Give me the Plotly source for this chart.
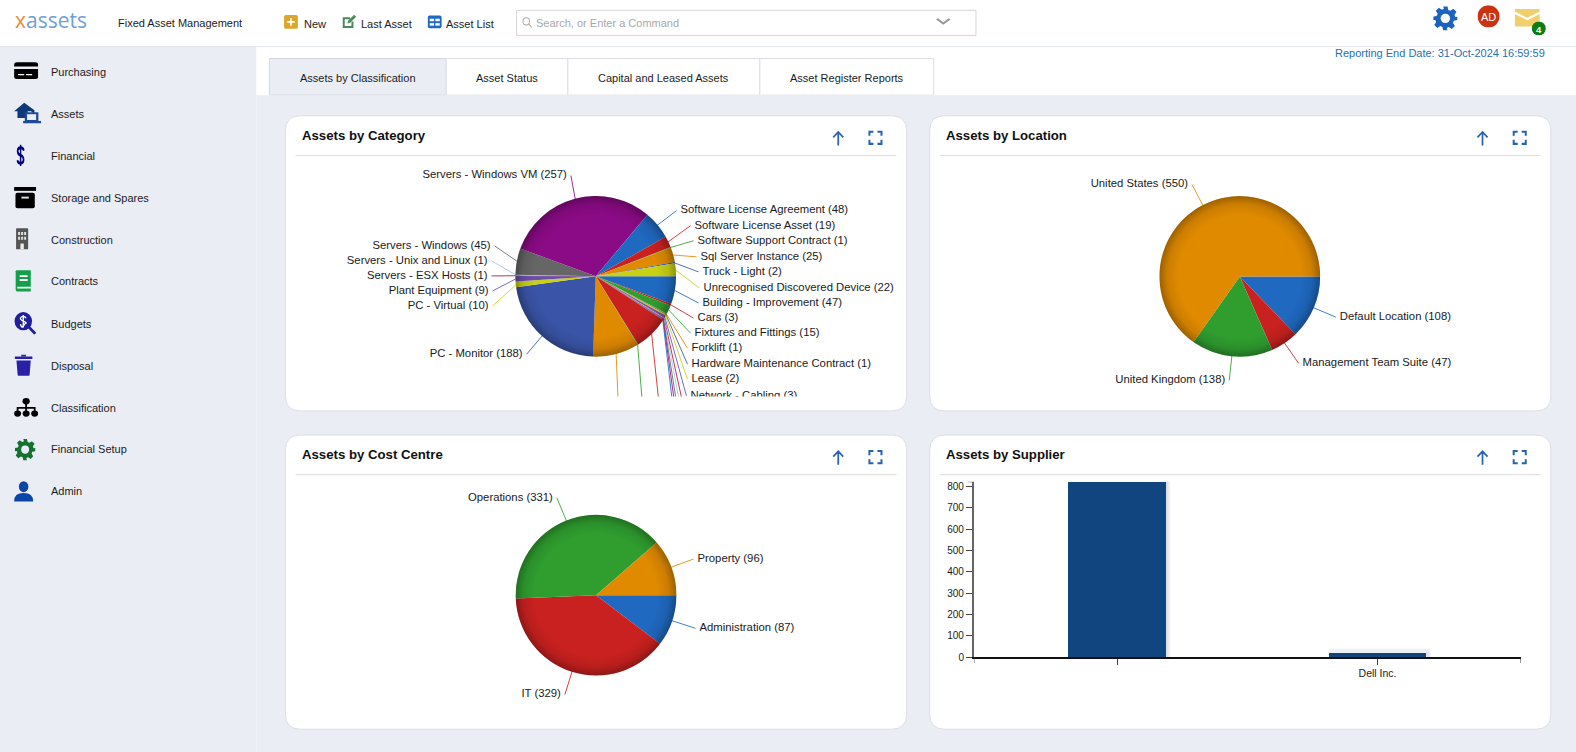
import base64
import numpy as np
import plotly.graph_objects as go

# ---------- data ----------
palette = ["#1f69c1", "#c9211f", "#2f9e2f", "#e08a00", "#3a55a8", "#c8d114",
           "#6a4fae", "#b3123a", "#a8c4e0", "#666666", "#8b0a85"]

category_names = ["Building - Improvement", "Cars", "Fixtures and Fittings", "Forklift",
                  "Hardware Maintenance Contract", "Lease", "Network - Cabling",
                  "", "", "", "", "", "", "", "",
                  "PC - Monitor", "PC - Virtual", "Plant Equipment", "Servers - ESX Hosts",
                  "Servers - Unix and Linux", "Servers - Windows", "Servers - Windows VM",
                  "Software License Agreement", "Software License Asset",
                  "Software Support Contract", "Sql Server Instance", "Truck - Light",
                  "Unrecognised Discovered Device"]
category_values = [47, 3, 15, 1, 1, 2, 3, 1, 1, 1, 1, 1, 59, 1, 78,
                   188, 10, 9, 1, 1, 45, 257, 48, 19, 1, 25, 2, 22]

location_names = ["Default Location", "Management Team Suite", "United Kingdom", "United States"]
location_values = [108, 47, 138, 550]

cost_names = ["Administration", "IT", "Operations", "Property"]
cost_values = [87, 329, 331, 96]

supplier_names = [" ", "Dell Inc."]
supplier_values = [821, 22]
supplier_ticks = [0, 100, 200, 300, 400, 500, 600, 700, 800]

sidebar_items = ["Purchasing", "Assets", "Financial", "Storage and Spares", "Construction",
                 "Contracts", "Budgets", "Disposal", "Classification", "Financial Setup", "Admin"]
tab_names = ["Assets by Classification", "Asset Status", "Capital and Leased Assets",
             "Asset Register Reports"]

# ---------- layout helpers (positions in the reference grid) ----------
GW, GH = 1568.0, 742.0
YSHIFT = 0.7
FONT = "Liberation Sans"
BG = "#ebedf5"
def px(x): return x / GW
def py(y): return 1 - (y - YSHIFT) / GH

shapes, annotations, images = [], [], []

def rect(x0, y0, x1, y1, fill="rgba(0,0,0,0)", line=None, lw=1):
    shapes.append(dict(type="rect", xref="paper", yref="paper", layer="below",
                       x0=px(x0), x1=px(x1), y0=py(y0), y1=py(y1), fillcolor=fill,
                       line=dict(color=line or "rgba(0,0,0,0)", width=lw if line else 0)))

def hline(x0, x1, y, color, w=1):
    shapes.append(dict(type="line", xref="paper", yref="paper", layer="below",
                       x0=px(x0), x1=px(x1), y0=py(y), y1=py(y), line=dict(color=color, width=w)))

def round_rect(x0, y0, x1, y1, r, fill, line):
    X0, X1, Y0, Y1 = px(x0), px(x1), py(y0), py(y1)
    rx, ry = r / GW, r / GH
    path = (f"M{X0+rx},{Y0} L{X1-rx},{Y0} Q{X1},{Y0} {X1},{Y0-ry} L{X1},{Y1+ry} Q{X1},{Y1} {X1-rx},{Y1} "
            f"L{X0+rx},{Y1} Q{X0},{Y1} {X0},{Y1+ry} L{X0},{Y0-ry} Q{X0},{Y0} {X0+rx},{Y0} Z")
    shapes.append(dict(type="path", xref="paper", yref="paper", layer="below", path=path,
                       fillcolor=fill, line=dict(color=line, width=1)))

def label(text, x, y, size=11, color="#1c1c1c", anchor="left", bold=False, family=FONT):
    t = f"<b>{text}</b>" if bold else text
    annotations.append(dict(text=t, x=px(x), y=py(y), xref="paper", yref="paper", showarrow=False,
                            xanchor=anchor, yanchor="middle", align=anchor,
                            font=dict(family=family, size=size, color=color), borderpad=0, borderwidth=0))

def icon(inner, x0, y0, x1, y1, vb="0 0 24 24"):
    svg = f'<svg xmlns="http://www.w3.org/2000/svg" viewBox="{vb}" preserveAspectRatio="none">{inner}</svg>'
    src = "data:image/svg+xml;base64," + base64.b64encode(svg.encode()).decode()
    images.append(dict(source=src, xref="paper", yref="paper", x=px(x0), y=py(y0),
                       sizex=(x1 - x0) / GW, sizey=(y1 - y0) / GH, xanchor="left", yanchor="top",
                       sizing="stretch", layer="above"))

GEAR = ('<path fill="{c}" d="M10 1h4l.7 3.2 1.9.8 2.8-1.8 2.8 2.8-1.8 2.8.8 1.9L23 10.4v3.2l-3.2.7-.8 1.9 '
        '1.8 2.8-2.8 2.8-2.8-1.8-1.9.8L14 23h-4l-.7-3.1-1.9-.8-2.8 1.8-2.8-2.8 1.8-2.8-.8-1.9L1 13.6v-3.2'
        'l3.2-.7.8-1.9-1.8-2.8 2.8-2.8 2.8 1.8 1.9-.8z"/><circle cx="12" cy="12" r="4.3" fill="{h}"/>')

# ---------- page chrome ----------
rect(0, 46, 255, 760, BG)
hline(0, 1568, 46, "#e4e6ee")
tab_edges = [268, 444, 565, 756, 929]
rect(268, 58, 444, 94.5, BG, "#d3d6de")
for i in range(1, 4):
    rect(tab_edges[i], 58, tab_edges[i + 1], 94.5, "#ffffff", "#dcdee4")
rect(255, 94.5, 1568, 760, BG)
for i, name in enumerate(tab_names):
    label(name, (tab_edges[i] + tab_edges[i + 1]) / 2, 77.3, 11, anchor="center")

for x0, y0, x1, y1, title in [(284, 115, 902, 409, "Assets by Category"),
                              (925, 115, 1543, 409, "Assets by Location"),
                              (284, 433, 902, 726, "Assets by Cost Centre"),
                              (925, 433, 1543, 726, "Assets by Supplier")]:
    round_rect(x0, y0, x1, y1, 15, "#ffffff", "#dcdee6")
    label(title, x0 + 16, y0 + 19.5, 13.2, "#111111", bold=True)
    hline(x0 + 10, x1 - 10, y0 + 39.5, "#dddddd")
    ax = x0 + 550
    icon('<path d="M12 22V3M4.5 10.5L12 3l7.5 7.5" fill="none" stroke="#2a62b0" stroke-width="2.6"/>',
         ax - 8, y0 + 14, ax + 8, y0 + 31)
    fx = x0 + 587
    icon('<path d="M3 9V3h6M15 3h6v6M21 15v6h-6M9 21H3v-6" fill="none" stroke="#2a62b0" stroke-width="3"/>',
         fx - 8, y0 + 14, fx + 8, y0 + 30)

# header
annotations.append(dict(text='<span style="color:#e8873a">x</span><span style="color:#6f9fd6">assets</span>',
                        x=px(13), y=py(20), xref="paper", yref="paper", showarrow=False, xanchor="left",
                        yanchor="middle", font=dict(family="Open Sans", size=21)))
label("Fixed Asset Management", 117, 22.5, 11)
icon('<rect x="1" y="1" width="22" height="22" rx="3" fill="#dba629"/><path d="M12 6v12M6 12h12" stroke="#fff" stroke-width="2.6"/>',
     282, 14, 297, 29)
label("New", 302, 23.5, 11)
icon('<path d="M3 6h11v3H6v10h10v-7h3v10H3z" fill="#4a8a5a"/><path d="M10 15l1-4L20 2l3 3-9 9z" fill="#4a8a5a"/>',
     339, 13, 355, 29)
label("Last Asset", 359, 23.5, 11)
icon('<rect x="1" y="2" width="22" height="20" rx="3" fill="#1d68c0"/><rect x="4" y="7" width="7" height="4" fill="#fff"/>'
     '<rect x="13" y="7" width="7" height="4" fill="#fff"/><rect x="4" y="14" width="7" height="4" fill="#fff"/><rect x="13" y="14" width="7" height="4" fill="#fff"/>',
     425, 14, 440, 29)
label("Asset List", 444, 23.5, 11)
rect(514, 10, 971, 35, "#ffffff", "#d6d6d6")
icon('<circle cx="10" cy="10" r="7" fill="none" stroke="#aaa" stroke-width="2"/><path d="M15 15l7 7" stroke="#aaa" stroke-width="2"/>',
     519, 16, 530, 28)
label("Search, or Enter a Command", 533, 22.5, 11, "#a8a8a8")
icon('<path d="M2 6l10 11L22 6" fill="none" stroke="#999" stroke-width="4"/>', 931, 16, 946, 26)

icon(GEAR.format(c="#1e62c0", h="#ffffff"), 1425, 5, 1451, 31)
icon('<circle cx="12" cy="12" r="12" fill="#cc3311"/>', 1470, 5, 1492, 27)
label("AD", 1481, 16.5, 11, "#ffffff", anchor="center")
icon('<path d="M0 1h24v3L12 12 0 4z" fill="#f0d06c"/><path d="M0 7l12 8 12-8v16H0z" fill="#f0d06c"/>', 1507, 8, 1532, 27)
icon('<circle cx="12" cy="12" r="12" fill="#0a7d14"/>', 1524, 21, 1538, 35)
label("4", 1531, 28.8, 9.5, "#ffffff", anchor="center", bold=True)
label("Reporting End Date: 31-Oct-2024 16:59:59", 1537, 52.5, 11, "#1f6fb5", anchor="right")

# sidebar
row_y = [71, 113, 155, 197, 239, 280, 322, 364, 406, 447, 489]
side_icons = [
    '<path d="M0 5q0-3 3-3h18q3 0 3 3v2H0z" fill="#000"/><path d="M0 10h24v9q0 3-3 3H3q-3 0-3-3z" fill="#000"/><path d="M4 16h6v1.6H4zM12 16h6v1.6h-6z" fill="#fff"/>',
    '<path d="M9 1L0 10h3v7h9v-7h3l3 3V9z" fill="#0f3a7a"/><rect x="10.5" y="12" width="10" height="8" fill="#eceef5" stroke="#1e4a96" stroke-width="2"/><rect x="8" y="20" width="16" height="2.4" fill="#1e4a96"/>',
    '<path d="M18 7q-1-3-6-3-5.5 0-5.500 3.500T12 12t5.500 4.500T12 20q-5 0-6-3" fill="none" stroke="#00007c" stroke-width="3"/><path d="M12 1v22" stroke="#00007c" stroke-width="2.600"/>',
    '<rect x="0" y="1" width="24" height="4" fill="#000"/><rect x="1.500" y="7" width="21" height="16" rx="2" fill="#000"/><rect x="8" y="11" width="8" height="2" fill="#ddd"/>',
    '<rect x="3" y="1" width="18" height="22" rx="1" fill="#555"/><path d="M6 5h3v3H6zM10.500 5h3v3h-3zM15 5h3v3h-3zM6 10h3v3H6zM10.500 10h3v3h-3zM15 10h3v3h-3z" fill="#ddd"/><rect x="9.500" y="17" width="5" height="6" fill="#eee"/>',
    '<path d="M3 1h18v22H4q-2 0-2-2V2z" fill="#14a04a"/><path d="M7 6h10v2H7zM7 10h10v2H7zM4 18h17v2H4z" fill="#fff"/>',
    '<circle cx="10" cy="10" r="9.500" fill="#1f1f9e"/><path d="M16 16l7 7" stroke="#1f1f9e" stroke-width="3"/><path d="M13 7q-1-2-3-2t-3 1.500T10 10t3 2-3 3-3-2M10 3.500v13" fill="none" stroke="#fff" stroke-width="1.500"/>',
    '<path d="M1 3h22v2.500H1z" fill="#2a20a8"/><path d="M9 1h6v2H9z" fill="#2a20a8"/><path d="M3 7h18l-1.500 15q0 1-2 1h-11q-2 0-2-1z" fill="#2a20a8"/>',
    '<circle cx="12" cy="5" r="3.600" fill="#000"/><circle cx="3.500" cy="19" r="3.500" fill="#000"/><circle cx="12" cy="19" r="3.500" fill="#000"/><circle cx="20.500" cy="19" r="3.500" fill="#000"/><path d="M12 7v10M3.500 16v-3.500h17V16" fill="none" stroke="#000" stroke-width="1.800"/>',
    GEAR.format(c="#167030", h=BG),
    '<circle cx="12" cy="7" r="6" fill="#0a45a8"/><path d="M0 23q0-9 12-9t12 9z" fill="#0a45a8"/>',
]
side_box = [(14, 60, 38, 80), (14, 101, 41, 124), (14, 143, 27, 166), (14, 185, 36, 208), (14, 226, 30, 249),
            (14, 268, 33, 291), (14, 310, 36, 333), (14, 352, 33, 375), (14, 395, 38, 416), (14, 436, 36, 459), (14, 478, 33, 500)]
for name, y, ic, box in zip(sidebar_items, row_y, side_icons, side_box):
    label(name, 51, y, 11)
    icon(ic, *box)

# ---------- pies ----------
R = 80.0
SHADE = ('<defs><radialGradient id="g" cx="50%" cy="50%" r="50%">'
         '<stop offset="0%" stop-color="#000" stop-opacity="0"/>'
         '<stop offset="76%" stop-color="#000" stop-opacity="0"/>'
         '<stop offset="90%" stop-color="#000" stop-opacity="0.09"/>'
         '<stop offset="100%" stop-color="#000" stop-opacity="0.30"/>'
         '</radialGradient></defs><circle cx="12" cy="12" r="12" fill="url(#g)"/>')

fig = go.Figure()
axis_layout = {}

def add_pie(axis_id, names, values, colors, cx, cy, region, anchors):
    sx = f"x{axis_id}"; sy = f"y{axis_id}"
    rx0, ry0, rx1, ry1 = region
    base = dict(visible=False, fixedrange=True, autorange=False)
    axis_layout[f"xaxis{axis_id}"] = dict(base, domain=[px(rx0), px(rx1)], range=[rx0, rx1], anchor=sy)
    axis_layout[f"yaxis{axis_id}"] = dict(base, domain=[py(ry1), py(ry0)], range=[ry1, ry0], anchor=sx)
    vals = np.array(values, float)
    mids = (np.cumsum(vals) - vals / 2) / vals.sum() * 2 * np.pi
    tx, ty, tt, tp = [], [], [], []
    for name, v, c, m, a in zip(names, values, colors, mids, anchors):
        ex, ey, side = a
        gap = {"r": -4, "l": 4, "n": 0}[side]
        fig.add_trace(go.Scatter(x=[cx + R * np.cos(m) * 0.99, ex + gap], y=[cy + R * np.sin(m) * 0.99, ey],
                                 xaxis=sx, yaxis=sy, mode="lines", line=dict(color=c, width=1),
                                 opacity=0.85, hoverinfo="skip", showlegend=False))
        if name:
            tx.append(ex); ty.append(ey); tt.append(f"{name} ({v})")
            tp.append("middle right" if side == "r" else "middle left")
    fig.add_trace(go.Scatter(x=tx, y=ty, text=tt, textposition=tp, mode="text", xaxis=sx, yaxis=sy,
                             cliponaxis=True, textfont=dict(family=FONT, size=11.3, color="#1a1a1a"),
                             hoverinfo="skip", showlegend=False))
    fig.add_trace(go.Pie(values=values, labels=[n or f"Hidden {i}" for i, n in enumerate(names)],
                         marker=dict(colors=colors, line=dict(width=0)),
                         sort=False, direction="clockwise", rotation=90, textinfo="none", hoverinfo="skip",
                         showlegend=False,
                         domain=dict(x=[px(cx - R), px(cx + R)], y=[py(cy + R), py(cy - R)])))
    icon(SHADE, cx - R, cy - R, cx + R, cy + R)

# label anchors, one per slice, in reading order of the slices
category_anchors = [
    (699, 301.5, "r"), (694, 316.5, "r"), (691, 331.5, "r"), (688, 346.5, "r"), (688, 362.5, "r"), (688, 377.5, "r"), (687, 394, "r"),
    (679, 400, "n"), (676, 400, "n"), (673, 400, "n"), (671, 400, "n"), (669, 400, "n"),
    (655.5, 400, "n"), (639, 400, "n"), (615, 400, "n"),
    (520, 352.5, "l"), (486, 304.5, "l"), (486, 289.5, "l"), (485, 274.5, "l"), (485, 259.5, "l"), (488, 244.5, "l"), (564, 174.5, "l"),
    (677, 209.5, "r"), (691, 224.5, "r"), (694, 239.5, "r"), (697, 255.5, "r"), (699, 270.5, "r"), (700, 286.5, "r"),
]
location_anchors = [(1333, 315.5, "r"), (1296, 361.5, "r"), (1219, 378.5, "l"), (1182, 183.5, "l")]
cost_anchors = [(696, 625.5, "r"), (558, 691.5, "l"), (550, 495.5, "l"), (694, 556.5, "r")]

add_pie(2, category_names, category_values,
        [palette[i % len(palette)] for i in range(len(category_values))],
        592.7, 274.9, (285, 157, 900, 394.5), category_anchors)
add_pie(3, location_names, location_values, palette[:4], 1233.5, 275, (930, 157, 1540, 405), location_anchors)
add_pie(4, cost_names, cost_values, palette[:4], 593, 592.5, (290, 475, 900, 720), cost_anchors)

# ---------- bar chart ----------
BAR_W = 0.374
fig.add_trace(go.Bar(x=supplier_names, y=supplier_values, width=BAR_W, marker=dict(color="#10457f", line=dict(width=0)),
                     hoverinfo="skip", showlegend=False))
for i, v in enumerate(supplier_values):
    shapes.append(dict(type="rect", xref="x", yref="y", layer="below",
                       x0=i - BAR_W / 2 + 0.004, x1=i + BAR_W / 2 + 0.017, y0=0, y1=v + 18,
                       fillcolor="#eef0f2", line=dict(width=0)))
    shapes.append(dict(type="rect", xref="x", yref="y", layer="below",
                       x0=i + BAR_W / 2, x1=i + BAR_W / 2 + 0.009, y0=0, y1=v + 4,
                       fillcolor="#e0e2e6", line=dict(width=0)))
TICK = "#444444"
X_RANGE = [-0.55, 1.55]
Y_MAX = max(supplier_values)
AX_BOTTOM, AX_TOP = 654.4, 479.5
for xv in X_RANGE:
    shapes.append(dict(type="line", xref="x", yref="paper", x0=xv, x1=xv, y0=py(AX_BOTTOM), y1=py(AX_BOTTOM + 5.5),
                       line=dict(color=TICK, width=1)))
shapes.append(dict(type="line", xref="paper", yref="y", x0=px(963.5), x1=px(969), y0=Y_MAX, y1=Y_MAX,
                   line=dict(color=TICK, width=1)))

fig.update_layout(
    width=1576, height=752, autosize=False, margin=dict(l=0, r=0, t=0, b=0),
    paper_bgcolor="#ffffff", plot_bgcolor="rgba(0,0,0,0)", showlegend=False, hovermode=False,
    shapes=shapes, annotations=annotations, images=images, bargap=0,
    font=dict(family=FONT, color="#1a1a1a"),
    xaxis=dict(domain=[px(969), px(1513)], range=X_RANGE, type="category", fixedrange=True, showgrid=False,
               zeroline=False, showline=True, linecolor="#111111", linewidth=1.5, ticks="outside", ticklen=6,
               tickcolor=TICK, tickwidth=1, tickfont=dict(family=FONT, size=10.5, color="#1a1a1a"), anchor="y"),
    yaxis=dict(domain=[py(AX_BOTTOM), py(AX_TOP)], range=[0, Y_MAX], fixedrange=True, showgrid=False, zeroline=False,
               tickvals=supplier_ticks, showline=True, linecolor="#666666", linewidth=2, ticks="outside",
               ticklen=6, tickcolor=TICK, tickwidth=1, tickfont=dict(family=FONT, size=10, color="#1a1a1a"), anchor="x"),
    **axis_layout,
)

fig.write_html("out.html", config={"displayModeBar": False, "staticPlot": True},
               post_script="document.body.style.margin='0';document.body.style.overflow='hidden';")
